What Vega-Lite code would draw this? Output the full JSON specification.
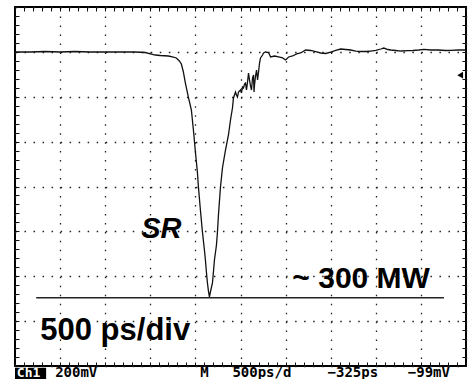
{
  "$schema": "https://vega.github.io/schema/vega-lite/v6.json",
  "autosize": {"type": "none"},
  "width": 451,
  "height": 359,
  "padding": {"left": 15, "top": 7, "right": 2, "bottom": 13},
  "background": "white",
  "config": {"view": {"stroke": "black", "strokeWidth": 2}},
  "datasets": {
    "trace": [
      {"t":0,"v":6.997},{"t":0.333,"v":6.997},{"t":0.667,"v":7.008},{"t":1,"v":6.997},{"t":1.333,"v":7.008},{"t":1.667,"v":6.997},{"t":2,"v":6.997},{"t":2.333,"v":6.997},{"t":2.667,"v":6.997},{"t":2.889,"v":6.986},{"t":3,"v":6.953},{"t":3.111,"v":6.93},{"t":3.222,"v":6.919},{"t":3.4,"v":6.908},{"t":3.489,"v":6.886},{"t":3.578,"v":6.864},{"t":3.644,"v":6.797},{"t":3.689,"v":6.73},{"t":3.733,"v":6.552},{"t":3.778,"v":6.306},{"t":3.844,"v":5.994},{"t":3.911,"v":5.705},{"t":3.956,"v":5.259},{"t":4,"v":4.769},{"t":4.044,"v":4.323},{"t":4.067,"v":3.989},{"t":4.111,"v":3.476},{"t":4.156,"v":2.986},{"t":4.2,"v":2.585},{"t":4.222,"v":2.362},{"t":4.244,"v":2.095},{"t":4.267,"v":1.85},{"t":4.289,"v":1.671},{"t":4.311,"v":1.538},{"t":4.333,"v":1.649},{"t":4.378,"v":1.85},{"t":4.4,"v":2.095},{"t":4.422,"v":2.362},{"t":4.467,"v":2.696},{"t":4.489,"v":2.986},{"t":4.511,"v":3.365},{"t":4.556,"v":3.989},{"t":4.6,"v":4.412},{"t":4.667,"v":4.813},{"t":4.733,"v":5.148},{"t":4.778,"v":5.482},{"t":4.822,"v":5.749},{"t":4.844,"v":5.972},{"t":4.889,"v":6.106},{"t":4.911,"v":6.039},{"t":4.933,"v":5.994},{"t":4.956,"v":6.106},{"t":5,"v":6.15},{"t":5.022,"v":6.084},{"t":5.044,"v":6.217},{"t":5.067,"v":6.195},{"t":5.089,"v":6.284},{"t":5.111,"v":6.306},{"t":5.133,"v":6.15},{"t":5.156,"v":6.329},{"t":5.178,"v":6.529},{"t":5.2,"v":6.373},{"t":5.222,"v":6.24},{"t":5.244,"v":6.15},{"t":5.267,"v":6.418},{"t":5.289,"v":6.485},{"t":5.3,"v":6.106},{"t":5.311,"v":6.262},{"t":5.333,"v":6.462},{"t":5.356,"v":6.596},{"t":5.378,"v":6.373},{"t":5.4,"v":6.552},{"t":5.422,"v":6.752},{"t":5.444,"v":6.864},{"t":5.489,"v":6.93},{"t":5.511,"v":6.975},{"t":5.556,"v":6.997},{"t":5.622,"v":6.986},{"t":5.667,"v":6.886},{"t":5.756,"v":6.908},{"t":5.844,"v":6.886},{"t":5.933,"v":6.864},{"t":6,"v":6.819},{"t":6.067,"v":6.886},{"t":6.156,"v":6.908},{"t":6.244,"v":6.953},{"t":6.333,"v":6.975},{"t":6.444,"v":7.042},{"t":6.556,"v":7.031},{"t":6.667,"v":7.008},{"t":6.778,"v":6.975},{"t":6.889,"v":6.964},{"t":7,"v":6.997},{"t":7.111,"v":7.031},{"t":7.222,"v":7.064},{"t":7.333,"v":7.053},{"t":7.444,"v":7.042},{"t":7.556,"v":7.019},{"t":7.667,"v":7.008},{"t":7.778,"v":7.008},{"t":7.889,"v":7.019},{"t":8,"v":7.031},{"t":8.111,"v":7.064},{"t":8.178,"v":7.086},{"t":8.267,"v":7.053},{"t":8.333,"v":7.042},{"t":8.444,"v":7.031},{"t":8.556,"v":7.019},{"t":8.711,"v":7.026},{"t":8.822,"v":7.031},{"t":8.956,"v":7.042},{"t":9.067,"v":7.057},{"t":9.222,"v":7.042},{"t":9.378,"v":7.042},{"t":9.556,"v":7.031},{"t":9.667,"v":7.035},{"t":9.822,"v":7.042},{"t":10,"v":7.042}
    ],
    "level": [{"t1": 0.47, "t2": 9.51, "v": 1.52}],
    "mwLabel": [{"t": 6.15, "v": 1.74, "label": "~ 300 MW"}],
    "divLabel": [{"t": 0.56, "v": 0.57, "label": "500 ps/div"}],
    "italicLabels": [{"t": 2.8, "v": 2.85, "label": "SR"}],
    "trigger": [{"t": 9.87, "v": 6.48}],
    "chBox": [{"t1": 0, "t2": 0.69, "v1": -0.04, "v2": -0.3}],
    "chLabel": [{"t": 0.04, "v": -0.235, "label": "Ch1"}],
    "status": [
      {"t": 0.89, "v": -0.235, "label": "200mV"},
      {"t": 4.11, "v": -0.235, "label": "M"},
      {"t": 4.82, "v": -0.235, "label": "500ps/d"},
      {"t": 6.93, "v": -0.235, "label": "\u2212325ps"},
      {"t": 8.71, "v": -0.235, "label": "\u221299mV"}
    ]
  },
  "resolve": {"axis": {"x": "independent", "y": "independent"}},
  "layer": [
    {
      "data": {"name": "trace"},
      "mark": {"type": "line", "color": "#111", "strokeWidth": 1.3, "interpolate": "linear"},
      "encoding": {
        "x": {"field": "t", "type": "quantitative", "scale": {"domain": [0, 10], "nice": false, "zero": false},
              "axis": {"orient": "bottom", "values": [0,1,2,3,4,5,6,7,8,9,10], "grid": true, "gridDash": [1.5, 7.475], "gridColor": "#222", "gridWidth": 1.3, "ticks": false, "labels": false, "domain": false, "title": null, "minExtent": 0, "maxExtent": 0}},
        "y": {"field": "v", "type": "quantitative", "scale": {"domain": [0, 8], "nice": false, "zero": false},
              "axis": {"orient": "left", "values": [0,1,2,3,4,5,6,7,8], "grid": true, "gridDash": [1.5, 7.52], "gridColor": "#222", "gridWidth": 1.3, "ticks": false, "labels": false, "domain": false, "title": null, "minExtent": 0, "maxExtent": 0}}
      }
    },
    {
      "data": {"name": "level"},
      "mark": {"type": "rule", "color": "#222", "strokeWidth": 1.5},
      "encoding": {
        "x": {"field": "t1", "type": "quantitative",
              "axis": {"orient": "bottom", "values": [0,0.2,0.4,0.6,0.8,1,1.2,1.4,1.6,1.8,2,2.2,2.4,2.6,2.8,3,3.2,3.4,3.6,3.8,4,4.2,4.4,4.6,4.8,5,5.2,5.4,5.6,5.8,6,6.2,6.4,6.6,6.8,7,7.2,7.4,7.6,7.8,8,8.2,8.4,8.6,8.8,9,9.2,9.4,9.6,9.8,10], "tickSize": -4, "tickColor": "#111", "grid": false, "labels": false, "domain": false, "title": null, "minExtent": 0, "maxExtent": 0}},
        "x2": {"field": "t2"},
        "y": {"field": "v", "type": "quantitative",
              "axis": {"orient": "left", "values": [0,0.2,0.4,0.6,0.8,1,1.2,1.4,1.6,1.8,2,2.2,2.4,2.6,2.8,3,3.2,3.4,3.6,3.8,4,4.2,4.4,4.6,4.8,5,5.2,5.4,5.6,5.8,6,6.2,6.4,6.6,6.8,7,7.2,7.4,7.6,7.8,8], "tickSize": -4, "tickColor": "#111", "grid": false, "labels": false, "domain": false, "title": null, "minExtent": 0, "maxExtent": 0}}
      }
    },
    {
      "data": {"name": "mwLabel"},
      "mark": {"type": "text", "font": "Liberation Sans", "fontWeight": "bold", "fontSize": 30, "align": "left", "baseline": "alphabetic", "color": "#000"},
      "encoding": {
        "x": {"field": "t", "type": "quantitative",
              "axis": {"orient": "top", "values": [0,0.2,0.4,0.6,0.8,1,1.2,1.4,1.6,1.8,2,2.2,2.4,2.6,2.8,3,3.2,3.4,3.6,3.8,4,4.2,4.4,4.6,4.8,5,5.2,5.4,5.6,5.8,6,6.2,6.4,6.6,6.8,7,7.2,7.4,7.6,7.8,8,8.2,8.4,8.6,8.8,9,9.2,9.4,9.6,9.8,10], "tickSize": -4, "tickColor": "#111", "grid": false, "labels": false, "domain": false, "title": null, "minExtent": 0, "maxExtent": 0}},
        "y": {"field": "v", "type": "quantitative",
              "axis": {"orient": "right", "values": [0,0.2,0.4,0.6,0.8,1,1.2,1.4,1.6,1.8,2,2.2,2.4,2.6,2.8,3,3.2,3.4,3.6,3.8,4,4.2,4.4,4.6,4.8,5,5.2,5.4,5.6,5.8,6,6.2,6.4,6.6,6.8,7,7.2,7.4,7.6,7.8,8], "tickSize": -4, "tickColor": "#111", "grid": false, "labels": false, "domain": false, "title": null, "minExtent": 0, "maxExtent": 0}},
        "text": {"field": "label"}
      }
    },
    {
      "data": {"name": "divLabel"},
      "mark": {"type": "text", "font": "Liberation Sans", "fontWeight": "bold", "fontSize": 31, "align": "left", "baseline": "alphabetic", "color": "#000"},
      "encoding": {
        "x": {"field": "t", "type": "quantitative", "axis": null},
        "y": {"field": "v", "type": "quantitative", "axis": null},
        "text": {"field": "label"}
      }
    },
    {
      "data": {"name": "italicLabels"},
      "mark": {"type": "text", "font": "Liberation Sans", "fontWeight": "bold", "fontStyle": "italic", "fontSize": 29, "align": "left", "baseline": "alphabetic", "color": "#000"},
      "encoding": {
        "x": {"field": "t", "type": "quantitative", "axis": null},
        "y": {"field": "v", "type": "quantitative", "axis": null},
        "text": {"field": "label"}
      }
    },
    {
      "data": {"name": "trigger"},
      "mark": {"type": "point", "shape": "triangle-left", "filled": true, "color": "#000", "size": 45, "opacity": 1},
      "encoding": {
        "x": {"field": "t", "type": "quantitative", "axis": null},
        "y": {"field": "v", "type": "quantitative", "axis": null}
      }
    },
    {
      "data": {"name": "chBox"},
      "mark": {"type": "rect", "color": "#000"},
      "encoding": {
        "x": {"field": "t1", "type": "quantitative", "axis": null},
        "x2": {"field": "t2"},
        "y": {"field": "v1", "type": "quantitative", "axis": null},
        "y2": {"field": "v2"}
      }
    },
    {
      "data": {"name": "chLabel"},
      "mark": {"type": "text", "font": "DejaVu Sans Mono", "fontWeight": "bold", "fontSize": 13, "align": "left", "baseline": "alphabetic", "color": "#fff"},
      "encoding": {
        "x": {"field": "t", "type": "quantitative", "axis": null},
        "y": {"field": "v", "type": "quantitative", "axis": null},
        "text": {"field": "label"}
      }
    },
    {
      "data": {"name": "status"},
      "mark": {"type": "text", "font": "DejaVu Sans Mono", "fontWeight": "bold", "fontSize": 14, "align": "left", "baseline": "alphabetic", "color": "#000"},
      "encoding": {
        "x": {"field": "t", "type": "quantitative", "axis": null},
        "y": {"field": "v", "type": "quantitative", "axis": null},
        "text": {"field": "label"}
      }
    }
  ]
}
